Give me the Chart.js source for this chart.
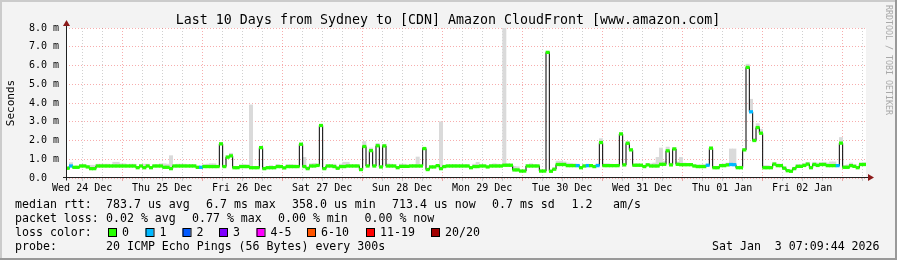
<!DOCTYPE html>
<html>
<head>
<meta charset="utf-8">
<title>Last 10 Days from Sydney to [CDN] Amazon CloudFront</title>
<script src="https://cdn.jsdelivr.net/npm/chart.js@4.4.1/dist/chart.umd.min.js"></script>
<style>
  html, body { margin: 0; padding: 0; background: #f3f3f3; }
  canvas { display: block; }
</style>
</head>
<body>
<canvas id="chart" width="897" height="260"></canvas>
<script>
// hours counted from Wed 24 Dec 00:00, graph covers 07:09 -> 07:09 ten days later
const START_HOUR = 7.15;
const END_HOUR = 247.15;

const dayLabels = ['Wed 24 Dec', 'Thu 25 Dec', 'Fri 26 Dec', 'Sat 27 Dec', 'Sun 28 Dec',
                   'Mon 29 Dec', 'Tue 30 Dec', 'Wed 31 Dec', 'Thu 01 Jan', 'Fri 02 Jan'];
const yTickLabels = ['0.0  ', '1.0 m', '2.0 m', '3.0 m', '4.0 m', '5.0 m', '6.0 m', '7.0 m', '8.0 m'];

// median rtt per hour (ms)
const median = [
  0.52,0.64,0.57,0.57,0.64,0.64,0.59,0.50,0.50,0.64, 0.64,0.64,0.64,0.64,0.64,0.64,0.64,0.64,0.64,0.64,
  0.64,0.55,0.64,0.55,0.64,0.55,0.64,0.64,0.64,0.57, 0.57,0.50,0.64,0.64,0.64,0.64,0.64,0.64,0.64,0.57,
  0.57,0.61,0.61,0.61,0.61,0.61,1.82,0.61,1.11,1.18, 0.55,0.55,0.61,0.61,0.61,0.55,0.55,0.55,1.62,0.50,
  0.55,0.55,0.55,0.61,0.61,0.54,0.61,0.61,0.61,0.61, 1.80,0.61,0.50,0.64,0.64,0.67,2.80,0.50,0.64,0.64,
  0.61,0.52,0.61,0.61,0.64,0.64,0.64,0.64,0.45,1.68, 0.64,1.46,0.64,1.72,0.59,1.71,0.64,0.64,0.64,0.55,
  0.62,0.62,0.62,0.64,0.64,0.64,0.64,1.57,0.45,0.59, 0.59,0.66,0.50,0.61,0.64,0.64,0.64,0.64,0.64,0.64,
  0.64,0.55,0.61,0.61,0.64,0.64,0.59,0.64,0.64,0.64, 0.64,0.68,0.68,0.68,0.43,0.43,0.37,0.37,0.64,0.64,
  0.64,0.64,0.37,0.37,6.70,0.36,0.47,0.72,0.72,0.72, 0.66,0.66,0.66,0.66,0.55,0.64,0.66,0.66,0.61,0.66,
  1.89,0.66,0.66,0.66,0.66,0.66,2.35,0.70,1.85,1.50, 0.68,0.68,0.68,0.61,0.70,0.64,0.64,0.64,0.73,0.73,
  1.45,0.70,1.55,0.73,0.71,0.71,0.71,0.71,0.64,0.61, 0.61,0.61,0.68,1.59,0.55,0.55,0.66,0.66,0.70,0.72,
  0.71,0.55,0.55,1.50,5.90,3.53,2.00,2.69,2.39,0.55, 0.55,0.55,0.74,0.66,0.66,0.52,0.39,0.36,0.50,0.62,
  0.62,0.67,0.74,0.55,0.72,0.67,0.72,0.72,0.66,0.66, 0.66,0.66,1.86,0.57,0.57,0.66,0.62,0.55,0.72,0.72
];

// top of the smoke (slowest pings) per hour (ms)
const smokeTop = [
  0.60,0.82,0.62,0.62,0.72,0.72,0.66,0.68,0.68,0.74, 0.74,0.74,0.74,0.70,0.84,0.84,0.76,0.76,0.70,0.74,
  0.74,0.62,0.70,0.74,0.74,0.62,0.70,0.70,0.76,0.76, 0.74,1.19,0.70,0.74,0.74,0.74,0.70,0.72,0.72,0.62,
  0.62,0.72,0.74,0.76,0.76,0.66,1.90,0.66,1.20,1.32, 0.62,0.62,0.70,0.72,0.70,3.90,0.62,0.62,1.70,0.58,
  0.62,0.66,0.62,0.72,0.66,0.60,0.72,0.72,0.70,0.66, 1.86,1.10,0.60,0.76,0.78,0.72,2.86,0.56,0.70,0.70,
  0.74,0.60,0.74,0.84,0.84,0.70,0.70,0.70,0.50,1.95, 0.70,1.60,0.70,1.85,0.64,1.80,0.76,0.74,0.70,0.60,
  0.74,0.74,0.68,0.70,0.72,1.12,0.70,1.64,0.50,0.64, 0.64,0.72,3.00,0.66,0.70,0.70,0.72,0.70,0.70,0.70,
  0.70,0.60,0.74,0.84,0.70,0.70,0.64,0.72,0.76,0.74, 0.72,8.00,0.76,0.74,0.62,0.60,0.42,0.42,0.72,0.76,
  0.72,0.70,0.42,0.42,6.75,0.42,0.52,0.90,0.90,0.86, 0.80,0.78,0.76,0.74,0.62,0.72,0.74,0.72,0.68,0.76,
  2.10,0.76,0.76,0.74,0.72,0.74,2.42,0.76,1.95,1.56, 0.74,0.76,0.74,0.68,0.78,0.76,0.80,1.10,1.60,0.90,
  1.65,0.80,1.62,0.86,1.10,0.80,0.78,0.78,0.72,0.70, 0.70,0.72,0.74,1.66,0.60,0.62,0.74,0.76,0.80,1.55,
  1.55,0.62,0.64,1.58,6.07,4.20,2.10,2.90,2.60,0.66, 0.66,0.62,0.84,0.76,0.74,0.60,0.44,0.42,0.58,0.72,
  0.72,0.78,0.84,0.64,0.84,0.80,0.82,0.84,0.80,0.86, 0.86,0.70,2.16,0.66,0.70,0.80,0.72,0.62,0.80,0.82
];

// hours where 1 of 20 pings was lost
const oneLossHours = [1, 40, 153, 156, 159, 192, 199, 200, 205, 231];

const lossColors = [
  { label: '0', color: '#26ff00' },
  { label: '1', color: '#00b8ff' },
  { label: '2', color: '#0059ff' },
  { label: '3', color: '#7e00ff' },
  { label: '4-5', color: '#ff00ff' },
  { label: '6-10', color: '#ff5500' },
  { label: '11-19', color: '#ff0000' },
  { label: '20/20', color: '#a10000' }
];

const rttStats = ['783.7 us avg', '6.7 ms max', '358.0 us min', '713.4 us now', '0.7 ms sd', '1.2', 'am/s'];
const lossStats = ['0.02 % avg', '0.77 % max', '0.00 % min', '0.00 % now'];

const MONO = '"DejaVu Sans Mono", "Liberation Mono", monospace';
const RED_GRID = 'rgba(235, 60, 60, 0.42)';
const GREY_GRID = 'rgba(150, 150, 150, 0.45)';

const binMid = i => START_HOUR + i + 0.5;

const smokeData = median.map((m, i) => ({ x: binMid(i), y: [m, smokeTop[i]] }));
const stepData = median.map((m, i) => ({ x: START_HOUR + i, y: m }));
stepData.push({ x: END_HOUR, y: median[median.length - 1] });
const markData = median.map((m, i) => ({ x: binMid(i), y: [m - 0.07, m + 0.07] }));
const markColors = median.map((m, i) => oneLossHours.includes(i) ? lossColors[1].color : lossColors[0].color);

const rrdFrame = {
  id: 'rrdFrame',
  beforeDraw(chart) {
    const { ctx, chartArea: a, width, height } = chart;
    ctx.save();
    ctx.fillStyle = '#f3f3f3';
    ctx.fillRect(0, 0, width, height);
    ctx.fillStyle = '#cbcbcb';
    ctx.fillRect(0, 0, width, 2);
    ctx.fillRect(0, 0, 2, height);
    ctx.fillStyle = '#999999';
    ctx.fillRect(0, height - 2, width, 2);
    ctx.fillRect(width - 2, 0, 2, height);
    ctx.fillStyle = '#ffffff';
    ctx.fillRect(a.left, a.top, a.right - a.left, a.bottom - a.top);
    ctx.restore();
  },
  afterDraw(chart) {
    const { ctx, chartArea: a } = chart;
    const x0 = Math.round(a.left) + 0.5;
    const y0 = Math.round(a.bottom) - 0.5;
    ctx.save();

    // axes + arrows
    ctx.strokeStyle = '#202020';
    ctx.lineWidth = 1;
    ctx.beginPath();
    ctx.moveTo(x0, y0 + 3);
    ctx.lineTo(x0, a.top - 4);
    ctx.moveTo(a.left - 3, y0);
    ctx.lineTo(a.right + 3, y0);
    ctx.stroke();
    ctx.fillStyle = '#8b1a1a';
    ctx.beginPath();
    ctx.moveTo(x0 - 3.5, a.top - 2);
    ctx.lineTo(x0 + 3.5, a.top - 2);
    ctx.lineTo(x0, a.top - 8);
    ctx.closePath();
    ctx.fill();
    ctx.beginPath();
    ctx.moveTo(a.right + 2, y0 - 3.5);
    ctx.lineTo(a.right + 2, y0 + 3.5);
    ctx.lineTo(a.right + 8, y0);
    ctx.closePath();
    ctx.fill();

    // title
    ctx.fillStyle = '#000';
    ctx.font = '13.3px ' + MONO;
    ctx.textAlign = 'center';
    ctx.textBaseline = 'alphabetic';
    ctx.fillText('Last 10 Days from Sydney to [CDN] Amazon CloudFront [www.amazon.com]', 448, 24);

    // y axis title
    ctx.save();
    ctx.translate(11, 103);
    ctx.rotate(-Math.PI / 2);
    ctx.font = '11px ' + MONO;
    ctx.textBaseline = 'middle';
    ctx.fillText('Seconds', 0, 0);
    ctx.restore();

    // watermark
    ctx.save();
    ctx.translate(888, 5);
    ctx.rotate(Math.PI / 2);
    ctx.font = '8.3px ' + MONO;
    ctx.fillStyle = '#a8a8a8';
    ctx.textAlign = 'left';
    ctx.textBaseline = 'middle';
    ctx.fillText('RRDTOOL / TOBI OETIKER', 0, 0);
    ctx.restore();

    // legend
    ctx.font = '11.6px ' + MONO;
    ctx.textAlign = 'left';
    ctx.textBaseline = 'middle';
    ctx.fillStyle = '#000';
    const row = [204.5, 218.5, 232.5, 246.5];
    ctx.fillText('median rtt:', 15, row[0]);
    [106, 206, 292, 392, 492, 571.5, 613].forEach((x, i) => ctx.fillText(rttStats[i], x, row[0]));
    ctx.fillText('packet loss:', 15, row[1]);
    [106, 192, 278, 364.5].forEach((x, i) => ctx.fillText(lossStats[i], x, row[1]));
    ctx.fillText('loss color:', 15, row[2]);
    [108, 145.5, 182.5, 219, 256.5, 307, 366, 431].forEach((x, i) => {
      ctx.fillStyle = lossColors[i].color;
      ctx.fillRect(x, 228.5, 8, 8);
      ctx.strokeStyle = '#000';
      ctx.strokeRect(x + 0.5, 228.5, 8, 8);
      ctx.fillStyle = '#000';
      ctx.fillText(lossColors[i].label, x + 14, row[2]);
    });
    ctx.fillText('probe:', 15, row[3]);
    ctx.fillText('20 ICMP Echo Pings (56 Bytes) every 300s', 106, row[3]);
    ctx.fillText('Sat Jan  3 07:09:44 2026', 712, row[3]);
    ctx.restore();
  }
};

const gridHours = [];
for (let h = 12; h < END_HOUR; h += 6) gridHours.push(h);

new Chart(document.getElementById('chart'), {
  type: 'bar',
  data: {
    datasets: [
      {
        type: 'bar',
        label: 'smoke',
        data: smokeData,
        backgroundColor: '#dadada',
        borderWidth: 0,
        grouped: false,
        barPercentage: 1,
        categoryPercentage: 1,
        order: 3
      },
      {
        type: 'line',
        label: 'median',
        data: stepData,
        stepped: true,
        borderColor: '#000000',
        borderWidth: 1,
        pointRadius: 0,
        fill: false,
        order: 2
      },
      {
        type: 'bar',
        label: 'median rtt',
        data: markData,
        backgroundColor: markColors,
        borderWidth: 0,
        grouped: false,
        barPercentage: 1,
        categoryPercentage: 1,
        order: 1
      }
    ]
  },
  options: {
    responsive: false,
    devicePixelRatio: 1,
    animation: false,
    events: [],
    layout: { padding: { left: 0, right: 31, top: 28, bottom: 0 } },
    plugins: { legend: { display: false }, tooltip: { enabled: false }, title: { display: false } },
    scales: {
      x: {
        type: 'linear',
        min: START_HOUR,
        max: END_HOUR,
        bounds: 'data',
        offset: false,
        afterBuildTicks: s => { s.ticks = gridHours.map(v => ({ value: v })); },
        afterFit: s => { s.height = 82; },
        grid: {
          offset: false,
          color: c => (c.tick && c.tick.value % 24 === 0) ? RED_GRID : GREY_GRID,
          lineWidth: 1,
          drawTicks: true,
          tickLength: 3
        },
        border: { display: false, dash: [1, 2] },
        ticks: {
          autoSkip: false,
          maxRotation: 0,
          minRotation: 0,
          padding: 1,
          color: '#000',
          font: { family: MONO, size: 10 },
          callback: v => (v % 24 === 12) ? (dayLabels[(v - 12) / 24] || '') : ''
        }
      },
      y: {
        type: 'linear',
        min: 0,
        max: 8,
        afterBuildTicks: s => {
          const t = [];
          for (let v = 0; v <= 8; v += 0.5) t.push({ value: v });
          s.ticks = t;
        },
        afterFit: s => { s.width = 66; },
        grid: {
          color: c => (c.tick && c.tick.value % 1 === 0) ? RED_GRID : GREY_GRID,
          lineWidth: 1,
          drawTicks: false
        },
        border: { display: false, dash: [1, 2] },
        ticks: {
          padding: 7,
          color: '#000',
          font: { family: MONO, size: 10 },
          callback: v => (v % 1 === 0) ? yTickLabels[v] : ''
        }
      }
    }
  },
  plugins: [rrdFrame]
});
</script>
</body>
</html>
